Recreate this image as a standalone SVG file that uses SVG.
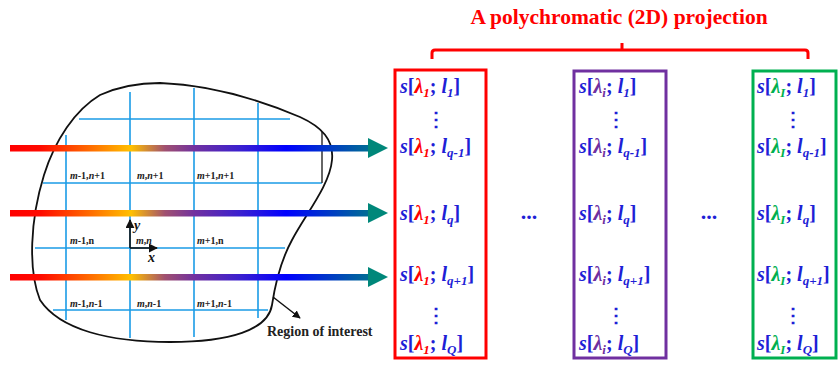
<svg xmlns="http://www.w3.org/2000/svg" width="838" height="365" viewBox="0 0 838 365">
<style>
text{font-family:"Liberation Serif","Times New Roman",serif;font-weight:bold}
.grid{stroke:#1a9be6;stroke-width:1.6;fill:none}
.cell{font-size:10px;fill:#222}
.i{font-style:italic}
.row{font-size:20px;fill:#1f1fd6}
.sub{font-size:13px;font-style:italic}
.red{fill:#ff0000}
.pur{fill:#7030a0}
.grn{fill:#00b050}
.ell{font-size:22px;fill:#1f1fd6}
.box{fill:none;stroke-width:3}
</style>
<defs>
<linearGradient id="spec" gradientUnits="userSpaceOnUse" x1="10" y1="0" x2="388" y2="0">
<stop offset="0" stop-color="#ff0000"/>
<stop offset="0.08" stop-color="#ff0a00"/>
<stop offset="0.21" stop-color="#ff6a00"/>
<stop offset="0.32" stop-color="#ffc000"/>
<stop offset="0.41" stop-color="#a05070"/>
<stop offset="0.49" stop-color="#7030a0"/>
<stop offset="0.61" stop-color="#3a20d0"/>
<stop offset="0.73" stop-color="#0000ff"/>
<stop offset="1" stop-color="#00877a"/>
</linearGradient>
<marker id="blk" viewBox="0 0 10 10" refX="9" refY="5" markerWidth="8" markerHeight="8" markerUnits="userSpaceOnUse" orient="auto">
<path d="M0,0 L10,5 L0,10 z" fill="#111"/>
</marker>
<marker id="ax" viewBox="0 0 10 10" refX="9" refY="5" markerWidth="9" markerHeight="9" markerUnits="userSpaceOnUse" orient="auto">
<path d="M0,0 L10,5 L0,10 z" fill="#111"/>
</marker>
</defs>

<g id="region">
<g class="grid">
<line x1="79" y1="119" x2="290" y2="119"/>
<line x1="43" y1="183" x2="322" y2="183"/>
<line x1="35" y1="248" x2="285" y2="248"/>
<line x1="53" y1="310" x2="268" y2="310"/>
<line x1="66" y1="135" x2="66" y2="320"/>
<line x1="130" y1="92" x2="130" y2="338"/>
<line x1="194" y1="88" x2="194" y2="337"/>
<line x1="258" y1="103" x2="258" y2="318"/>
</g>
<line x1="322" y1="132" x2="322" y2="183" stroke="#333" stroke-width="1.5"/>
<path d="M160,83 C210,85 260,100 300,117 C322,127 334,140 332,160 C330,185 305,215 292,240 C280,262 275,285 272,305 C268,330 230,342 170,342 C110,342 60,330 40,300 C28,270 30,220 44,175 C55,140 75,110 100,95 C120,86 140,83 160,83 Z" fill="none" stroke="#111" stroke-width="1.8"/>
<text class="cell" x="70" y="179"><tspan class="i">m</tspan>-1,<tspan class="i">n</tspan>+1</text>
<text class="cell" x="137" y="179"><tspan class="i">m</tspan>,<tspan class="i">n</tspan>+1</text>
<text class="cell" x="197" y="179"><tspan class="i">m</tspan>+1,<tspan class="i">n</tspan>+1</text>
<text class="cell" x="70" y="244"><tspan class="i">m</tspan>-1,n</text>
<text class="cell" x="136" y="244"><tspan class="i">m</tspan>,<tspan class="i">n</tspan></text>
<text class="cell" x="197" y="244"><tspan class="i">m</tspan>+1,n</text>
<text class="cell" x="70" y="307"><tspan class="i">m</tspan>-1,<tspan class="i">n</tspan>-1</text>
<text class="cell" x="137" y="307"><tspan class="i">m</tspan>,<tspan class="i">n</tspan>-1</text>
<text class="cell" x="197" y="307"><tspan class="i">m</tspan>+1,<tspan class="i">n</tspan>-1</text>
<line x1="130" y1="248" x2="130" y2="220" stroke="#111" stroke-width="1.6" marker-end="url(#ax)"/>
<line x1="130" y1="248" x2="157" y2="248" stroke="#111" stroke-width="1.6" marker-end="url(#ax)"/>
<text class="i" x="134" y="230" font-size="14" fill="#111">y</text>
<text class="i" x="148" y="262" font-size="14" fill="#111">x</text>
<line x1="273" y1="297" x2="300" y2="318" stroke="#111" stroke-width="1.5" marker-end="url(#blk)"/>
<text x="267" y="336" font-size="14" fill="#222">Region of interest</text>
</g>

<g id="connectors">
<rect x="10" y="145" width="360" height="6.5" fill="url(#spec)"/>
<polygon points="368,138 388,148 368,158" fill="#00877a"/>
<rect x="10" y="210" width="360" height="6.5" fill="url(#spec)"/>
<polygon points="368,203 388,213 368,223" fill="#00877a"/>
<rect x="10" y="274" width="360" height="6.5" fill="url(#spec)"/>
<polygon points="368,267 388,277 368,287" fill="#00877a"/>
</g>

<g id="title">
<text x="619" y="24" font-size="21.5" text-anchor="middle" fill="#ff0000">A polychromatic (2D) projection</text>
<path d="M432,59 L432,53 Q432,50 435,50 L805,50 Q808,50 808,53 L808,59 M622,50 L622,43" fill="none" stroke="#ff0000" stroke-width="3"/>
</g>

<g id="box-lambda1">
<rect class="box" x="395" y="70" width="91" height="288" stroke="#ff0000"/>
<text class="row" x="400" y="93"><tspan class="i">s</tspan>[<tspan class="i red">λ</tspan><tspan class="sub red" dy="4">1</tspan><tspan dy="-4">; </tspan><tspan class="i">l</tspan><tspan class="sub" dy="4">1</tspan><tspan dy="-4">]</tspan></text>
<text class="row" x="436" y="126" text-anchor="middle">⋮</text>
<text class="row" x="400" y="153"><tspan class="i">s</tspan>[<tspan class="i red">λ</tspan><tspan class="sub red" dy="4">1</tspan><tspan dy="-4">; </tspan><tspan class="i">l</tspan><tspan class="sub" dy="4">q-1</tspan><tspan dy="-4">]</tspan></text>
<text class="row" x="400" y="220"><tspan class="i">s</tspan>[<tspan class="i red">λ</tspan><tspan class="sub red" dy="4">1</tspan><tspan dy="-4">; </tspan><tspan class="i">l</tspan><tspan class="sub" dy="4">q</tspan><tspan dy="-4">]</tspan></text>
<text class="row" x="400" y="281"><tspan class="i">s</tspan>[<tspan class="i red">λ</tspan><tspan class="sub red" dy="4">1</tspan><tspan dy="-4">; </tspan><tspan class="i">l</tspan><tspan class="sub" dy="4">q+1</tspan><tspan dy="-4">]</tspan></text>
<text class="row" x="436" y="322" text-anchor="middle">⋮</text>
<text class="row" x="400" y="350"><tspan class="i">s</tspan>[<tspan class="i red">λ</tspan><tspan class="sub red" dy="4">1</tspan><tspan dy="-4">; </tspan><tspan class="i">l</tspan><tspan class="sub" dy="4">Q</tspan><tspan dy="-4">]</tspan></text>
</g>

<text class="ell" x="529" y="219" text-anchor="middle">...</text>

<g id="box-lambdai">
<rect class="box" x="574" y="71" width="92" height="287" stroke="#7030a0"/>
<text class="row" x="579" y="93"><tspan class="i">s</tspan>[<tspan class="i pur">λ</tspan><tspan class="sub pur" dy="4">i</tspan><tspan dy="-4">; </tspan><tspan class="i">l</tspan><tspan class="sub" dy="4">1</tspan><tspan dy="-4">]</tspan></text>
<text class="row" x="616" y="126" text-anchor="middle">⋮</text>
<text class="row" x="579" y="153"><tspan class="i">s</tspan>[<tspan class="i pur">λ</tspan><tspan class="sub pur" dy="4">i</tspan><tspan dy="-4">; </tspan><tspan class="i">l</tspan><tspan class="sub" dy="4">q-1</tspan><tspan dy="-4">]</tspan></text>
<text class="row" x="579" y="220"><tspan class="i">s</tspan>[<tspan class="i pur">λ</tspan><tspan class="sub pur" dy="4">i</tspan><tspan dy="-4">; </tspan><tspan class="i">l</tspan><tspan class="sub" dy="4">q</tspan><tspan dy="-4">]</tspan></text>
<text class="row" x="579" y="281"><tspan class="i">s</tspan>[<tspan class="i pur">λ</tspan><tspan class="sub pur" dy="4">i</tspan><tspan dy="-4">; </tspan><tspan class="i">l</tspan><tspan class="sub" dy="4">q+1</tspan><tspan dy="-4">]</tspan></text>
<text class="row" x="616" y="322" text-anchor="middle">⋮</text>
<text class="row" x="579" y="350"><tspan class="i">s</tspan>[<tspan class="i pur">λ</tspan><tspan class="sub pur" dy="4">i</tspan><tspan dy="-4">; </tspan><tspan class="i">l</tspan><tspan class="sub" dy="4">Q</tspan><tspan dy="-4">]</tspan></text>
</g>

<text class="ell" x="709" y="219" text-anchor="middle">...</text>

<g id="box-lambdaI">
<rect class="box" x="753" y="71" width="83" height="287" stroke="#00b050"/>
<text class="row" x="757" y="93"><tspan class="i">s</tspan>[<tspan class="i grn">λ</tspan><tspan class="sub grn" dy="4">I</tspan><tspan dy="-4">; </tspan><tspan class="i">l</tspan><tspan class="sub" dy="4">1</tspan><tspan dy="-4">]</tspan></text>
<text class="row" x="793" y="126" text-anchor="middle">⋮</text>
<text class="row" x="757" y="153"><tspan class="i">s</tspan>[<tspan class="i grn">λ</tspan><tspan class="sub grn" dy="4">I</tspan><tspan dy="-4">; </tspan><tspan class="i">l</tspan><tspan class="sub" dy="4">q-1</tspan><tspan dy="-4">]</tspan></text>
<text class="row" x="757" y="220"><tspan class="i">s</tspan>[<tspan class="i grn">λ</tspan><tspan class="sub grn" dy="4">I</tspan><tspan dy="-4">; </tspan><tspan class="i">l</tspan><tspan class="sub" dy="4">q</tspan><tspan dy="-4">]</tspan></text>
<text class="row" x="757" y="281"><tspan class="i">s</tspan>[<tspan class="i grn">λ</tspan><tspan class="sub grn" dy="4">I</tspan><tspan dy="-4">; </tspan><tspan class="i">l</tspan><tspan class="sub" dy="4">q+1</tspan><tspan dy="-4">]</tspan></text>
<text class="row" x="793" y="322" text-anchor="middle">⋮</text>
<text class="row" x="757" y="350"><tspan class="i">s</tspan>[<tspan class="i grn">λ</tspan><tspan class="sub grn" dy="4">I</tspan><tspan dy="-4">; </tspan><tspan class="i">l</tspan><tspan class="sub" dy="4">Q</tspan><tspan dy="-4">]</tspan></text>
</g>
</svg>
